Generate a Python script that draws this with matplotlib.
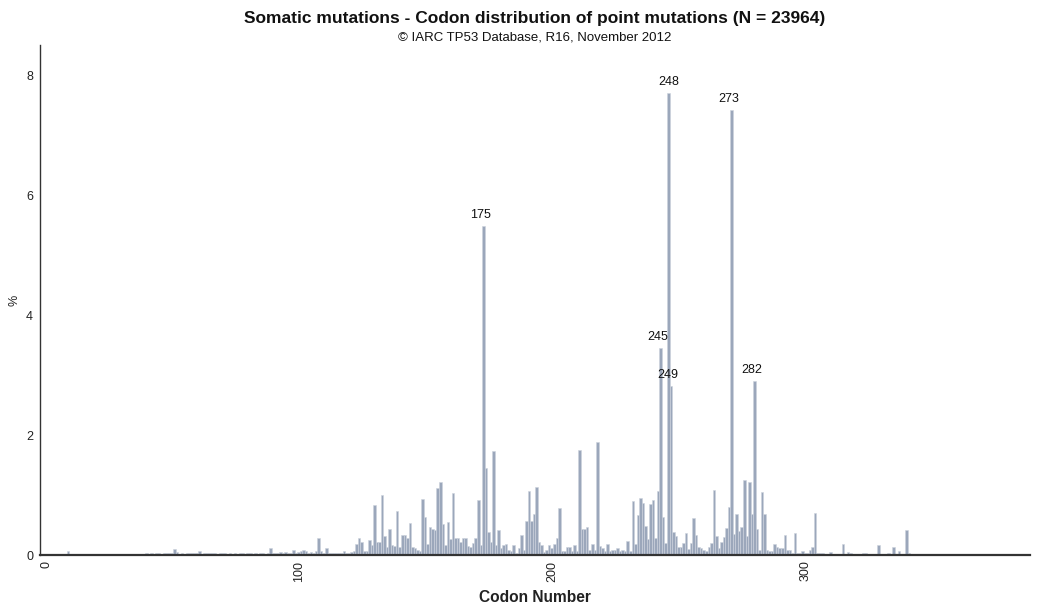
import matplotlib
matplotlib.use("Agg")
import matplotlib.pyplot as plt
import matplotlib.transforms as mtransforms
import numpy as np

plt.rcParams["font.family"] = ["Liberation Sans", "DejaVu Sans"]

TITLE = "Somatic mutations - Codon distribution of point mutations (N = 23964)"
SUBTITLE = "\u00a9 IARC TP53 Database, R16, November 2012"

# percent of point mutations per codon, codons 1..393
pct = [
    0.00, 0.00, 0.01, 0.01, 0.02, 0.01, 0.00, 0.00, 0.01, 0.01,   # 1-10
    0.06, 0.01, 0.00, 0.00, 0.01, 0.00, 0.02, 0.00, 0.00, 0.01,   # 11-20
    0.00, 0.01, 0.00, 0.00, 0.01, 0.00, 0.01, 0.02, 0.01, 0.01,   # 21-30
    0.01, 0.02, 0.01, 0.02, 0.01, 0.01, 0.02, 0.01, 0.01, 0.02,   # 31-40
    0.01, 0.03, 0.02, 0.03, 0.02, 0.03, 0.04, 0.02, 0.04, 0.03,   # 41-50
    0.04, 0.03, 0.10, 0.05, 0.02, 0.04, 0.02, 0.03, 0.04, 0.03,   # 51-60
    0.04, 0.03, 0.06, 0.02, 0.03, 0.03, 0.04, 0.04, 0.03, 0.02,   # 61-70
    0.03, 0.04, 0.03, 0.02, 0.03, 0.02, 0.03, 0.02, 0.03, 0.03,   # 71-80
    0.02, 0.04, 0.03, 0.02, 0.03, 0.02, 0.04, 0.03, 0.02, 0.04,   # 81-90
    0.12, 0.03, 0.04, 0.03, 0.05, 0.03, 0.05, 0.04, 0.04, 0.09,   # 91-100
    0.04, 0.05, 0.07, 0.08, 0.07, 0.03, 0.05, 0.04, 0.06, 0.28,   # 101-110
    0.07, 0.03, 0.11, 0.04, 0.03, 0.04, 0.03, 0.04, 0.03, 0.07,   # 111-120
    0.03, 0.04, 0.05, 0.06, 0.18, 0.29, 0.22, 0.07, 0.07, 0.25,   # 121-130
    0.16, 0.83, 0.21, 0.22, 1.00, 0.32, 0.14, 0.43, 0.17, 0.15,   # 131-140
    0.73, 0.14, 0.33, 0.33, 0.28, 0.53, 0.14, 0.11, 0.09, 0.06,   # 141-150
    0.93, 0.64, 0.19, 0.46, 0.44, 0.42, 1.11, 1.22, 0.52, 0.16,   # 151-160
    0.55, 0.26, 1.04, 0.28, 0.28, 0.21, 0.28, 0.28, 0.15, 0.14,   # 161-170
    0.20, 0.28, 0.92, 0.17, 5.48, 1.45, 0.39, 0.21, 1.73, 0.17,   # 171-180
    0.41, 0.11, 0.17, 0.18, 0.08, 0.07, 0.16, 0.04, 0.11, 0.33,   # 181-190
    0.08, 0.56, 1.07, 0.56, 0.68, 1.14, 0.21, 0.17, 0.05, 0.08,   # 191-200
    0.17, 0.11, 0.18, 0.28, 0.79, 0.06, 0.07, 0.14, 0.14, 0.07,   # 201-210
    0.17, 0.07, 1.75, 0.43, 0.43, 0.46, 0.09, 0.18, 0.08, 1.88,   # 211-220
    0.15, 0.12, 0.07, 0.19, 0.07, 0.08, 0.08, 0.12, 0.07, 0.08,   # 221-230
    0.07, 0.23, 0.07, 0.90, 0.19, 0.67, 0.95, 0.87, 0.49, 0.27,   # 231-240
    0.85, 0.92, 0.28, 1.07, 3.45, 0.64, 0.20, 7.70, 2.82, 0.39,   # 241-250
    0.31, 0.14, 0.14, 0.20, 0.37, 0.10, 0.20, 0.62, 0.33, 0.14,   # 251-260
    0.11, 0.09, 0.06, 0.14, 0.20, 1.08, 0.31, 0.11, 0.22, 0.30,   # 261-270
    0.45, 0.80, 7.42, 0.35, 0.68, 0.40, 0.46, 1.25, 0.32, 1.22,   # 271-280
    0.69, 2.90, 0.43, 0.09, 1.05, 0.68, 0.09, 0.07, 0.07, 0.19,   # 281-290
    0.14, 0.12, 0.12, 0.34, 0.09, 0.09, 0.04, 0.36, 0.04, 0.04,   # 291-300
    0.07, 0.04, 0.04, 0.08, 0.13, 0.70, 0.04, 0.03, 0.03, 0.02,   # 301-310
    0.02, 0.05, 0.02, 0.01, 0.02, 0.02, 0.19, 0.02, 0.05, 0.03,   # 311-320
    0.01, 0.01, 0.01, 0.02, 0.04, 0.04, 0.01, 0.02, 0.02, 0.02,   # 321-330
    0.17, 0.01, 0.02, 0.02, 0.04, 0.01, 0.14, 0.02, 0.07, 0.01,   # 331-340
    0.02, 0.41, 0.03, 0.01, 0.02, 0.02, 0.02, 0.02, 0.02, 0.01,   # 341-350
    0.01, 0.01, 0.01, 0.01, 0.01, 0.01, 0.01, 0.01, 0.00, 0.00,   # 351-360
    0.00, 0.00, 0.01, 0.01, 0.01, 0.01, 0.00, 0.00, 0.00, 0.00,   # 361-370
    0.00, 0.00, 0.00, 0.00, 0.00, 0.01, 0.00, 0.00, 0.01, 0.00,   # 371-380
    0.00, 0.00, 0.00, 0.00, 0.00, 0.00, 0.00, 0.00, 0.00, 0.00,   # 381-390
    0.00, 0.00, 0.00,                                             # 391-393
]
codons = np.arange(1, len(pct) + 1)

hotspots = [175, 245, 248, 249, 273, 282]
x_ticks = [0, 100, 200, 300]
y_ticks = [0, 2, 4, 6, 8]

BAR = "#9ba7bb"
EDGE = "#cdd3dd"
AXIS = "#333333"

fig = plt.figure(figsize=(10.42, 6.06), dpi=100)
ax = fig.add_axes([40 / 1042, 1 - 555 / 606, 990 / 1042, 510 / 606])

ax.bar(codons, pct, width=1.0, color=BAR, edgecolor=EDGE, linewidth=0.4)

# hotspot labels sit just above their bars; 248 is centred, the rest lean left
for c in hotspots:
    dx = 1 if c == 248 else -3
    ax.annotate(str(c), xy=(c, pct[c - 1]), xytext=(dx, 5),
                textcoords="offset pixels", ha="center", va="bottom",
                fontsize=9, color="#111111")

ax.set_xlim(0, 390.8)
ax.set_ylim(0, 8.5)
ax.set_xticks(x_ticks)
ax.set_xticklabels([str(t) for t in x_ticks], rotation=90, va="top", ha="center")
ax.set_yticks(y_ticks)
ax.tick_params(length=0, labelsize=9, colors="#222222")
ax.tick_params(axis="y", pad=5)
ax.tick_params(axis="x", pad=4)

# nudge the rotated codon labels a little to the right
shift = mtransforms.ScaledTranslation(0.06, 0, fig.dpi_scale_trans)
for lab in ax.get_xticklabels():
    lab.set_transform(lab.get_transform() + shift)

for side in ("top", "right"):
    ax.spines[side].set_visible(False)
ax.spines["left"].set_color(AXIS)
ax.spines["left"].set_linewidth(1.0)
ax.spines["bottom"].set_color(AXIS)
ax.spines["bottom"].set_linewidth(1.6)

cx = 535 / 1042
fig.text(cx, 1 - 19 / 606, TITLE, ha="center", va="center",
         fontsize=12.5, fontweight="bold", color="#111111")
fig.text(cx, 1 - 38 / 606, SUBTITLE, ha="center", va="center",
         fontsize=9.5, color="#111111")
fig.text(cx, 1 - 597 / 606, "Codon Number", ha="center", va="center",
         fontsize=11.2, fontweight="bold", color="#222222")
fig.text(15 / 1042, 1 - 300 / 606, "%", ha="center", va="center",
         rotation=90, fontsize=9, color="#222222")

fig.savefig("out.png", dpi=100, facecolor="white")
